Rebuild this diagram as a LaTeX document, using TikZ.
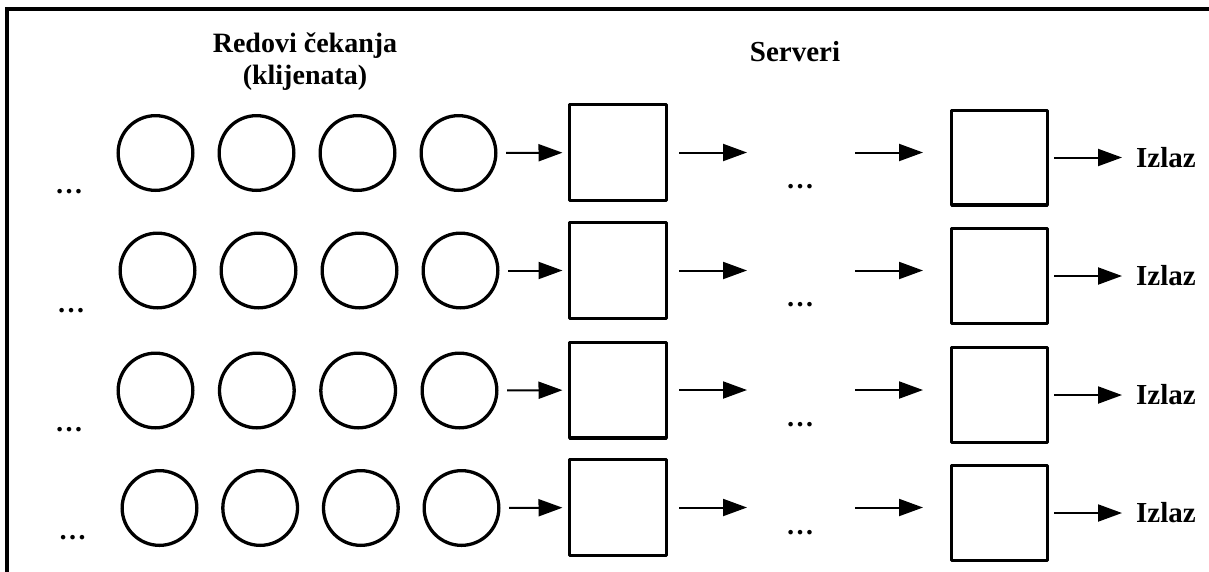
\documentclass[tikz,border=0pt]{standalone}
\usepackage{fontspec}
\setmainfont{Liberation Serif}
\usetikzlibrary{arrows.meta}
\begin{document}
\begin{tikzpicture}[x=1pt,y=-1pt,
  qcirc/.style={circle,draw,line width=3.3pt,minimum size=74.7pt,inner sep=0pt},
  srvA/.style={rectangle,draw,line width=3.3pt,line join=round,minimum width=96.7pt,minimum height=95.7pt,inner sep=0pt},
  srvB/.style={rectangle,draw,line width=3.3pt,line join=round,minimum width=95.7pt,minimum height=94.7pt,inner sep=0pt},
  arr/.style={line width=2pt,-{Triangle[length=24pt,width=17pt]}},
  lbl/.style={font=\bfseries\fontsize{28}{32}\selectfont,inner sep=0pt},
  lblsrv/.style={font=\bfseries\fontsize{29}{32}\selectfont,inner sep=0pt},
  lblout/.style={font=\bfseries\fontsize{29}{32}\selectfont,inner sep=0pt},
  frame/.style={line width=4pt}
]
\useasboundingbox (0,0) rectangle (1209,571);
\draw[frame] (7,575) -- (7,9) -- (1215,9);

\node[lbl,anchor=base] (t1) at (305,52) {Redovi čekanja};
\node[lbl,anchor=base] (t2) at (305,84) {(klijenata)};
\node[lblsrv,anchor=base] (srv) at (795,61) {Serveri};

\foreach \Rr/\Cy/\Xa/\Xd/\Ay/\By/\Lx/\Ly/\My in {
  1/153/155.5/458.5/152.5/157.5/69/192/187,
  2/270.5/157.5/460.5/270.5/276/71/311/305,
  3/390.5/155.5/459.5/390/395/69/430/425,
  4/508/159.5/461.5/507.5/513/72.5/538/533}
{
  \foreach \Kk in {0,1,2,3}
    \node[qcirc] (c\Rr-\Kk) at ({\Xa+(\Xd-\Xa)*\Kk/3},\Cy) {};
  \node[srvA] (A\Rr) at (618,\Ay) {};
  \node[srvB] (B\Rr) at (999.5,\By) {};
  \node[lbl,anchor=base] (ld\Rr) at (\Lx,{\Ly+1.5}) {…};
  \node[lbl,anchor=base] (md\Rr) at (800,{\My+1.5}) {…};
  \node[lblout,anchor=west] (o\Rr) at (1136,\By) {Izlaz};
  \coordinate (m\Rr) at (747,\Ay);
  \coordinate (n\Rr) at (855,\Ay);
  \draw[arr,shorten <=8.5pt,shorten >=5.5pt] (c\Rr-3) -- (A\Rr);
  \draw[arr,shorten <=11pt] (A\Rr.east) -- (m\Rr);
  \draw[arr,shorten >=27pt] (n\Rr) -- (n\Rr -| B\Rr.west);
  \draw[arr,shorten <=5pt,shorten >=14pt] (B\Rr) -- (o\Rr);
}
\end{tikzpicture}
\end{document}
